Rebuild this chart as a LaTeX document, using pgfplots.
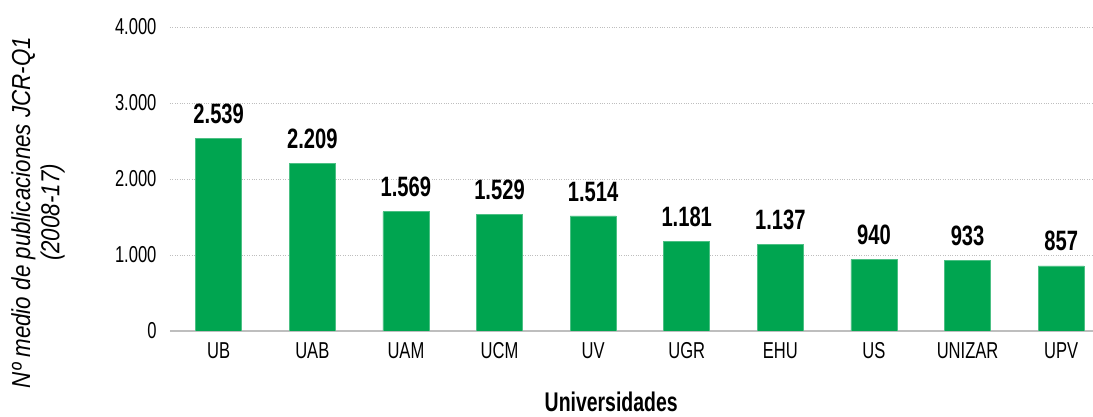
\documentclass[border=0pt]{standalone}
\usepackage{fontspec}
\setmainfont{Liberation Sans}[FakeStretch=0.72]
\newfontfamily\ylabfont{Liberation Sans}[FakeStretch=0.86]
\usepackage{pgfplots}
\pgfplotsset{compat=1.18}
\definecolor{bargreen}{RGB}{0,165,80}
\definecolor{gridgray}{RGB}{190,190,190}
\begin{document}
\begin{tikzpicture}
\begin{axis}[
  scale only axis,
  width=923pt, height=304pt,
  xmin=-0.52, xmax=9.34,
  ymin=0, ymax=4000,
  ytick={0,1000,2000,3000,4000},
  xtick={0,...,9},
  xticklabels={UB,UAB,UAM,UCM,UV,UGR,EHU,US,UNIZAR,UPV},
  axis line style={draw=none},
  major tick length=0pt,
  ymajorgrids,
  grid style={gridgray, dotted, line width=0.8pt},
  extra y ticks={0},
  extra y tick style={grid style={gridgray, solid, line width=1.5pt}},
  extra y tick labels={},
  /pgf/number format/.cd, 1000 sep={.}, assume math mode=true,
  /pgfplots/.cd,
  yticklabel style={font=\fontsize{23}{26}\selectfont, xshift=-10pt},
  xticklabel style={font=\fontsize{23}{26}\selectfont, yshift=-8pt},
  ybar, bar width=46pt,
  nodes near coords,
  nodes near coords style={font=\fontsize{28}{30}\selectfont\bfseries, yshift=11pt},
  xlabel={\bfseries Universidades},
  xlabel style={font=\fontsize{27}{30}\selectfont, at={(axis description cs:0.478,-0.232)}, anchor=center},
  ylabel={\shortstack{Nº medio de publicaciones JCR-Q1\\[2pt](2008-17)}},
  ylabel style={font=\fontsize{26}{29}\selectfont\ylabfont\itshape, at={(axis description cs:-0.143,0.39)}, anchor=center},
]
\addplot[fill=bargreen, draw=bargreen!70!white, line width=0.6pt] coordinates {
(0,2539) (1,2209) (2,1569) (3,1529) (4,1514) (5,1181) (6,1137) (7,940) (8,933) (9,857)};
\end{axis}
\pgfresetboundingbox
\path[use as bounding box] (-170pt,-86pt) rectangle (923pt,331pt);
\end{tikzpicture}
\end{document}
